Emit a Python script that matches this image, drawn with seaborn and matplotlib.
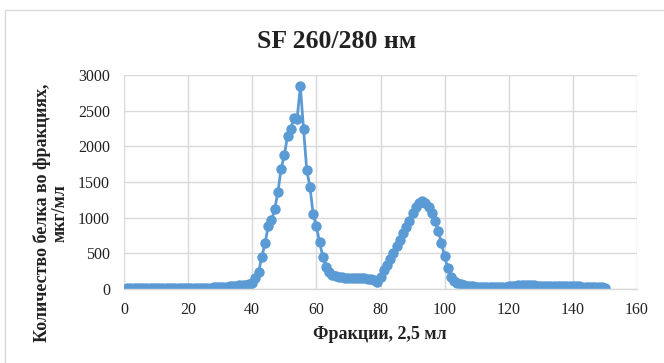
import numpy as np
import pandas as pd
import matplotlib
matplotlib.use("Agg")
import matplotlib.pyplot as plt
import seaborn as sns
from matplotlib.patches import Rectangle

fractions = list(range(1, 151))
protein = [
    10, 10, 10, 10, 10, 10, 10, 10, 10, 10,
    10, 10, 10, 10, 10, 10, 10, 10, 12, 12,
    12, 13, 14, 15, 16, 18, 20, 22, 25, 28,
    30, 33, 36, 40, 45, 50, 55, 60, 65, 80,
    150, 244, 455, 643, 887, 962, 1122, 1356, 1686, 1873,
    2145, 2240, 2400, 2390, 2840, 2240, 1666, 1432, 1047, 878,
    652, 455, 314, 244, 200, 180, 168, 162, 158, 156,
    155, 155, 153, 150, 148, 145, 138, 125, 100, 170,
    260, 340, 420, 510, 600, 690, 780, 870, 960, 1060,
    1150, 1210, 1230, 1200, 1150, 1070, 960, 820, 640, 460,
    290, 175, 115, 85, 65, 52, 45, 40, 38, 35,
    33, 32, 32, 32, 32, 33, 33, 34, 35, 38,
    42, 48, 50, 50, 50, 50, 50, 50, 49, 49,
    48, 48, 47, 46, 45, 44, 43, 42, 41, 40,
    38, 36, 34, 32, 30, 28, 26, 24, 22, 20,
]
x_ticks = [0, 20, 40, 60, 80, 100, 120, 140, 160]
y_ticks = [0, 500, 1000, 1500, 2000, 2500, 3000]
title = "SF 260/280 нм"
x_label = "Фракции, 2,5 мл"
y_label = "Количество белка во фракциях,\nмкг/мл"

df = pd.DataFrame({"fraction": fractions, "protein": protein})

sns.set_theme(style="whitegrid")
plt.rcParams["font.family"] = ["Liberation Serif", "DejaVu Serif"]

fig = plt.figure(figsize=(6.64, 3.63), dpi=100)
ax = fig.add_axes([124 / 664, 1 - 289 / 363, (637 - 124) / 664, (289 - 75) / 363])

blue = "#5B9BD5"
sns.lineplot(data=df, x="fraction", y="protein", ax=ax, color=blue,
             linewidth=2.0, marker="o", markersize=7.5, markeredgewidth=0,
             markerfacecolor=blue)

ax.set_xlim(0, 160)
ax.set_ylim(0, 3000)
ax.set_xticks(x_ticks)
ax.set_yticks(y_ticks)
ax.grid(True, color="#D9D9D9", linewidth=1)
for s in ["top", "left", "right"]:
    ax.spines[s].set_visible(False)
ax.spines["bottom"].set_color("#D9D9D9")
ax.spines["bottom"].set_linewidth(1)
ax.tick_params(axis="x", length=0, pad=9, labelsize=11.5, colors="#222222")
ax.tick_params(axis="y", length=0, pad=10, labelsize=11.5, colors="#222222")
ax.set_xlabel("")
ax.set_ylabel("")

fig.text(380 / 664, 1 - 339 / 363, x_label, ha="center", va="baseline",
         fontsize=13, fontweight="bold", color="#222222")
fig.text(51 / 664, 1 - 213 / 363, y_label, ha="center", va="center",
         rotation=90, multialignment="center", fontsize=13,
         fontweight="bold", color="#222222", linespacing=1.05)
fig.text(337 / 664, 1 - 48 / 363, title, ha="center", va="baseline",
         fontsize=18.5, fontweight="bold", color="#222222")

fig.patches.append(Rectangle((5 / 664, -0.1), 1.2, 1 - 10 / 363 + 0.1,
                             transform=fig.transFigure, fill=False,
                             edgecolor="#D9D9D9", linewidth=1))

fig.savefig("out.png", dpi=100)
